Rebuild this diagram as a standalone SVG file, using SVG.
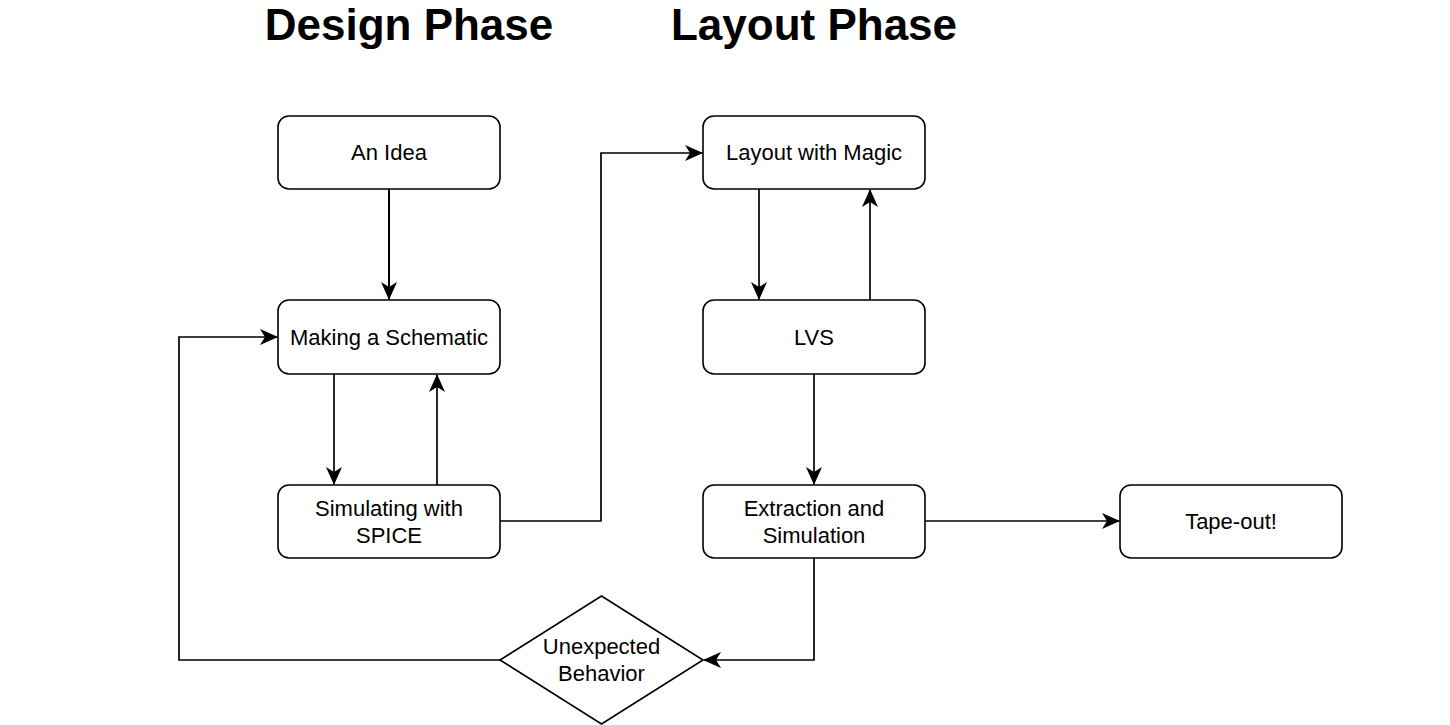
<svg xmlns="http://www.w3.org/2000/svg" width="1450" height="725" viewBox="0 0 1450 725">
<style>
.box{fill:#fff;stroke:#000;stroke-width:1.6}
.t{font-family:"Liberation Sans",Arial,sans-serif;font-size:22px;fill:#000;text-anchor:middle}
.h{font-family:"Liberation Sans",Arial,sans-serif;font-size:44px;font-weight:bold;fill:#000;text-anchor:middle}
.c{fill:none;stroke:#000;stroke-width:1.7}
</style>
<defs>
<marker id="a" viewBox="0 0 18 16" refX="17" refY="8" markerWidth="18" markerHeight="16" markerUnits="userSpaceOnUse" orient="auto">
<path d="M0,0 L18,8 L0,16 L5,8 Z" fill="#000"/>
</marker>
</defs>
<rect width="1450" height="725" fill="#fff"/>
<text class="h" x="409" y="40">Design Phase</text>
<text class="h" x="814" y="40">Layout Phase</text>
<g id="connectors">
<path class="c" d="M389,189 L389,299" marker-end="url(#a)" style="stroke-width:2"/>
<path class="c" d="M334,374 L334,484" marker-end="url(#a)"/>
<path class="c" d="M437,485 L437,375" marker-end="url(#a)"/>
<path class="c" d="M500,521 L601,521 L601,153 L702,153" marker-end="url(#a)"/>
<path class="c" d="M759,189 L759,299" marker-end="url(#a)"/>
<path class="c" d="M870,300 L870,190" marker-end="url(#a)"/>
<path class="c" d="M814,374 L814,484" marker-end="url(#a)"/>
<path class="c" d="M925,521 L1119,521" marker-end="url(#a)"/>
<path class="c" d="M814,558 L814,660 L704,660" marker-end="url(#a)"/>
<path class="c" d="M500,660 L179,660 L179,337 L277,337" marker-end="url(#a)"/>
</g>
<g id="idea"><rect class="box" x="278" y="116" width="222" height="73" rx="11"/><text class="t" x="389" y="160">An Idea</text></g>
<g id="schematic"><rect class="box" x="278" y="300" width="222" height="74" rx="11"/><text class="t" x="389" y="345">Making a Schematic</text></g>
<g id="spice"><rect class="box" x="278" y="485" width="222" height="73" rx="11"/><text class="t" x="389" y="516">Simulating with</text><text class="t" x="389" y="543">SPICE</text></g>
<g id="magic"><rect class="box" x="703" y="116" width="222" height="73" rx="11"/><text class="t" x="814" y="160">Layout with Magic</text></g>
<g id="lvs"><rect class="box" x="703" y="300" width="222" height="74" rx="11"/><text class="t" x="814" y="345">LVS</text></g>
<g id="extraction"><rect class="box" x="703" y="485" width="222" height="73" rx="11"/><text class="t" x="814" y="516">Extraction and</text><text class="t" x="814" y="543">Simulation</text></g>
<g id="tapeout"><rect class="box" x="1120" y="485" width="222" height="73" rx="11"/><text class="t" x="1231" y="529">Tape-out!</text></g>
<g id="unexpected"><path class="box" d="M601.5,596 L703,660 L601.5,724 L500,660 Z"/><text class="t" x="601.5" y="654">Unexpected</text><text class="t" x="601.5" y="681">Behavior</text></g>
</svg>
